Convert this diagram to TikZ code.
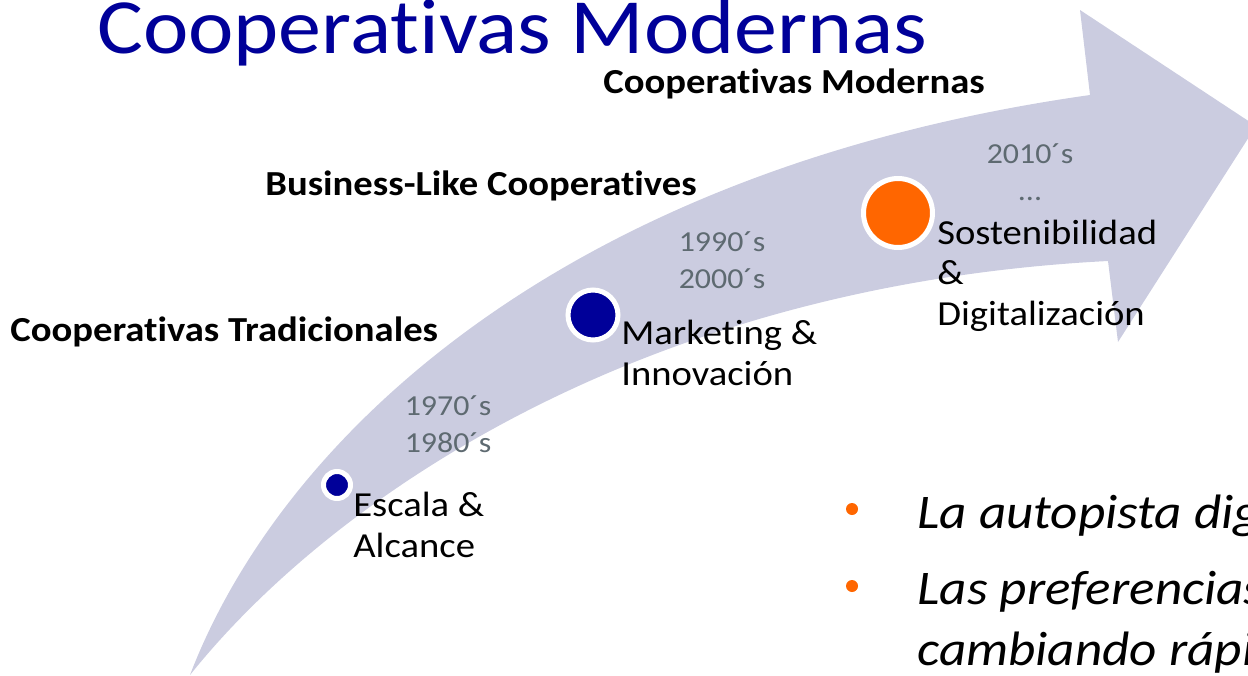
\documentclass[tikz,border=0pt]{standalone}
\usepackage{fontspec}
\setmainfont{Carlito}[FakeStretch=1.1, Ligatures=NoCommon]
\definecolor{navy}{HTML}{000099}
\definecolor{tangerine}{HTML}{FF6600}
\definecolor{band}{HTML}{CBCCE0}
\definecolor{slate}{HTML}{5E6A71}
\tikzset{
  headline/.style={font=\fontsize{44.5}{50}\selectfont, text=navy, anchor=base west, inner sep=0pt},
  era/.style={font=\fontsize{20}{24}\selectfont\bfseries, anchor=base west, inner sep=0pt},
  decade/.style={font=\fontsize{16.5}{21}\selectfont, text=slate, align=center, anchor=base, inner sep=0pt},
  stage/.style={font=\fontsize{20}{23}\selectfont, align=left, anchor=base west, inner sep=0pt},
  dot/.style={circle, draw=white, line width=0.1cm, inner sep=0pt},
  bullet/.style={circle, fill=tangerine, minimum size=0.24cm, inner sep=0pt},
  point/.style={font=\fontsize{27.5}{34.5}\selectfont\itshape, anchor=base west, align=left, inner sep=0pt},
}
\begin{document}
\begin{tikzpicture}[x=0.02cm,y=-0.02cm]
  \clip (0,0) rectangle (1248,676);
  % the band
  \fill[band] (190,675) .. controls (280,440) and (560,170) .. (1090,95)
    -- (1080,10) -- (1256,126) -- (1118,342) -- (1108,261)
    .. controls (640,285) and (330,500) .. cycle;

  \node[headline] (title) at (97,53) {Cooperativas Modernas};

  \node[era] (modern) at (603,93) {Cooperativas Modernas};
  \node[era] (business) at (265,195) {Business-Like Cooperatives};
  \node[era] (trad) at (10,341) {Cooperativas Tradicionales};

  % anchored on the last line
  \node[decade] (d70) at (448,452) {1970´s\\1980´s};
  \node[decade] (d90) at (722,288) {1990´s\\2000´s};
  \node[decade] (d10) at (1030,200) {2010´s\\...};

  \node[dot, fill=navy, minimum size=0.54cm] (escala) at (337,485) {};
  \node[dot, fill=navy, minimum size=1cm] (marketing) at (593,315) {};
  \node[dot, fill=tangerine, minimum size=1.38cm] (sosten) at (898,213) {};

  \node[stage] (escala-txt) at (353,557) {Escala \&\\Alcance};
  \node[stage] (marketing-txt) at (621,385) {Marketing \&\\Innovación};
  \node[stage] (sosten-txt) at (937,325) {Sostenibilidad\\\&\\Digitalización};

  \node[bullet] (b1) at (852,509) {};
  \node[bullet] (b2) at (852,586) {};
  \node[point] (p1) at (917,528) {La autopista digital};
  \node[point] (p2) at (917,665) {Las preferencias\\cambiando rápidamente};
\end{tikzpicture}
\end{document}
